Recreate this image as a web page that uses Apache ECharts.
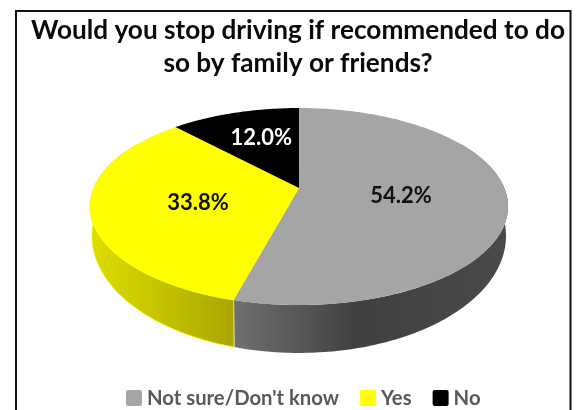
<!DOCTYPE html>
<html>
<head>
<meta charset="utf-8">
<style>html,body{margin:0;padding:0;background:#fff}#chart{width:579px;height:410px}</style>
<script src="https://cdn.jsdelivr.net/npm/echarts@6/dist/echarts.min.js"></script>
</head>
<body>
<div id="chart"></div>
<script>
// Survey answers, in percent, clockwise from twelve o'clock.
const categories = ["Not sure/Don't know", "Yes", "No"];
const shares = [54.2, 33.8, 12.0];
const titleLines = ['Would you stop driving if recommended to do', 'so by family or friends?'];

const topColors = ['#a5a5a5', '#ffff00', '#000000'];
const labelColors = ['#111111', '#111111', '#ffffff'];
const labelNudge = [[-1, 2], [1, 3], [-3, -9]];
const wallStops = [
  [[0, '#707070'], [0.45, '#404040'], [1, '#4a4a4a']],
  [[0, '#dede00'], [1, '#a9a700']],
  null
];

// Perspective discs: circle coordinates projected onto the page.
const cx = 299, tilt = -0.188;
const upperDisc = { c: 205.3, a: 59.66, b: 188 };
const lowerDisc = { c: 203.3, a: 72.6, b: 214 };
const frontFrom = 60, frontTo = 300;

function project(deg, r, plane) {
  const t = deg * Math.PI / 180;
  const u = r * Math.sin(t), v = -r * Math.cos(t);
  const d = 1 + tilt * v;
  return [cx + plane.c * u / d, (plane.a * v + plane.b) / d];
}
function arc(from, to, plane) {
  const pts = [];
  const n = Math.max(2, Math.ceil(Math.abs(to - from)));
  for (let i = 0; i <= n; i++) pts.push(project(from + (to - from) * i / n, 1, plane));
  return pts;
}
const total = shares.reduce((s, v) => s + v, 0);
const starts = shares.map((_, i) => shares.slice(0, i).reduce((s, v) => s + v, 0) / total * 360);

function sliceRenderer(idx) {
  return function (params, api) {
    const from = starts[idx];
    const to = from + api.value(0) / total * 360;
    const children = [];
    const wf = Math.max(from, frontFrom), wt = Math.min(to, frontTo);
    if (wt > wf && wallStops[idx]) {
      const all = arc(wf, wt, upperDisc).concat(arc(wt, wf, lowerDisc));
      const xs = all.map(p => p[0]);
      children.push({
        type: 'polygon', z2: 1,
        shape: { points: all },
        style: {
          fill: new echarts.graphic.LinearGradient(
            Math.min(...xs), 0, Math.max(...xs), 0,
            wallStops[idx].map(s => ({ offset: s[0], color: s[1] })),
            true),
          stroke: idx === 1 ? '#f4f400' : null,
          lineWidth: 0.8
        }
      });
      if (idx === 0) {
        // Pale seam where the two visible walls meet.
        const a = project(to, 1, upperDisc), b = project(to, 1, lowerDisc);
        children.push({
          type: 'line', z2: 5,
          shape: { x1: a[0], y1: a[1], x2: b[0], y2: b[1] },
          style: { stroke: '#c4c4c4', lineWidth: 1 }
        });
      }
    }
    children.push({
      type: 'polygon', z2: 10,
      shape: { points: [project(0, 0, upperDisc)].concat(arc(from, to, upperDisc)) },
      style: { fill: topColors[idx] }
    });
    const mid = project((from + to) / 2, 0.5, upperDisc);
    children.push({
      type: 'text', z2: 20,
      style: {
        x: mid[0] + labelNudge[idx][0], y: mid[1] + labelNudge[idx][1],
        text: api.value(0).toFixed(1) + '%',
        fill: labelColors[idx],
        font: 'bold 22px Lato',
        align: 'center', verticalAlign: 'middle'
      }
    });
    return { type: 'group', children };
  };
}

const chart = echarts.init(document.getElementById('chart'));
chart.setOption({
  animation: false,
  backgroundColor: '#ffffff',
  title: titleLines.map((line, i) => ({
    text: line,
    left: 293,
    top: 13 + i * 33,
    textAlign: 'center',
    textStyle: { fontFamily: 'Lato', fontWeight: 'bold', fontSize: 26.2, color: '#0a0a0a' }
  })),
  legend: {
    data: categories,
    left: 121, top: 383,
    itemWidth: 16, itemHeight: 16, itemGap: 21,
    icon: 'path://M2 0H14A2 2 0 0 1 16 2V14A2 2 0 0 1 14 16H2A2 2 0 0 1 0 14V2A2 2 0 0 1 2 0Z',
    textStyle: { fontFamily: 'Lato', fontWeight: 'bold', fontSize: 20.3, color: '#595959' }
  },
  graphic: [{
    type: 'rect',
    shape: { x: 16, y: 11, width: 554.5, height: 420 },
    style: { fill: 'none', stroke: '#111111', lineWidth: 2 },
    silent: true
  }],
  series: categories.map((name, i) => ({
    type: 'custom',
    name,
    coordinateSystem: 'none',
    itemStyle: { color: topColors[i] },
    renderItem: sliceRenderer(i),
    data: [[shares[i]]]
  }))
});
</script>
</body>
</html>
